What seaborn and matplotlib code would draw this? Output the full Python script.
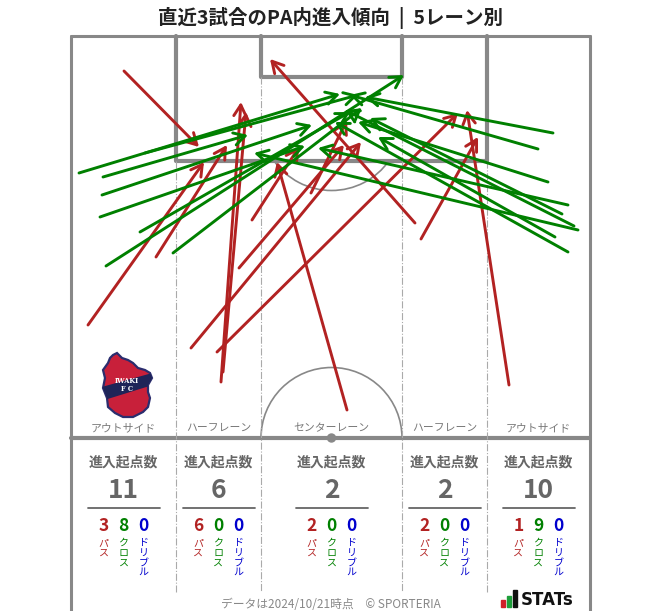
import matplotlib
matplotlib.use("Agg")
import matplotlib.pyplot as plt
import seaborn as sns
from matplotlib.patches import Arc, Circle, Polygon, Rectangle

# ---- data (pixel positions on the pitch image) ----
pass_starts = [(124, 71), (88, 325), (156, 257),
               (252, 220), (239, 268), (191, 348), (217, 352), (221, 382), (223, 372),
               (347, 410), (311, 193),
               (415, 223), (421, 239),
               (509, 385)]
pass_ends = [(199, 147), (204, 162), (227, 145),
             (299, 147), (344, 145), (361, 142), (458, 113), (241, 102), (246, 112),
             (277, 162), (347, 120),
             (270, 59), (478, 137),
             (467, 110)]

cross_starts = [(145, 153), (79, 173), (103, 177), (102, 195), (100, 217), (140, 232), (106, 266), (173, 253),
                (553, 133), (538, 149), (548, 182), (568, 205), (578, 230), (555, 237), (568, 252), (574, 226), (562, 214)]
cross_ends = [(358, 95), (340, 94), (248, 135), (312, 125), (305, 146), (350, 112), (404, 75), (362, 108),
              (365, 97), (350, 95), (358, 122), (318, 148), (254, 153), (378, 137), (335, 122), (345, 110), (370, 118)]

lane_names = ["アウトサイド", "ハーフレーン", "センターレーン", "ハーフレーン", "アウトサイド"]
total_counts = [11, 6, 2, 2, 10]
pass_counts = [3, 6, 2, 2, 1]
cross_counts = [8, 0, 0, 0, 9]
dribble_counts = [0, 0, 0, 0, 0]
kind_labels = ["パス", "クロス", "ドリブル"]

RED = "#B22222"
GREEN = "#008000"
BLUE = "#0000CD"
LINE = "#888888"

sns.set_theme(style="white")
plt.rcParams["font.family"] = ["Noto Sans CJK JP", "DejaVu Sans"]

fig = plt.figure(figsize=(6.63, 6.11), dpi=100)
ax = fig.add_axes([0, 0, 1, 1])
ax.set_xlim(0, 663)
ax.set_ylim(611, 0)
ax.axis("off")

# pitch
lanes = [71, 176, 261, 402, 487, 590]
ax.plot([71, 590], [36, 36], color=LINE, lw=2.2, zorder=1)
ax.plot([71, 71], [36, 611], color=LINE, lw=2.2, zorder=1)
ax.plot([590, 590], [36, 611], color=LINE, lw=2.2, zorder=1)
ax.plot([176, 176, 487, 487], [36, 161, 161, 36], color=LINE, lw=3, zorder=1)
ax.plot([261, 261, 402, 402], [36, 77, 77, 36], color=LINE, lw=3, zorder=1)
ax.plot([71, 590], [438, 438], color=LINE, lw=3, zorder=1)
ax.add_patch(Arc((331.5, 120), 141, 141, theta1=35, theta2=145, color=LINE, lw=1.2, zorder=1))
ax.add_patch(Arc((331.5, 438), 141, 141, theta1=180, theta2=360, color=LINE, lw=1.2, zorder=1))
ax.add_patch(Circle((331.5, 438), 4, color=LINE, zorder=2))
for x, top in [(176, 161), (261, 77), (402, 77), (487, 161)]:
    ax.plot([x, x], [top, 592], color="#aaaaaa", lw=0.8, ls="-.", zorder=1)

centers = [(lanes[i] + lanes[i + 1]) / 2 for i in range(5)]
for cx, name in zip(centers, lane_names):
    ax.text(cx, 428, name, ha="center", va="center", fontsize=7.8, color="#777777")

# arrows
style = "->,head_length=0.5,head_width=0.28"
for (x0, y0), (x1, y1) in zip(pass_starts, pass_ends):
    ax.annotate("", xy=(x1, y1), xytext=(x0, y0),
                arrowprops=dict(arrowstyle=style, color=RED, lw=2.1,
                                shrinkA=0, shrinkB=0, mutation_scale=16), zorder=3)
for (x0, y0), (x1, y1) in zip(cross_starts, cross_ends):
    ax.annotate("", xy=(x1, y1), xytext=(x0, y0),
                arrowprops=dict(arrowstyle=style, color=GREEN, lw=2.1,
                                shrinkA=0, shrinkB=0, mutation_scale=16), zorder=4)

# club badge
shield = Polygon([(110, 358), (113, 355), (117, 353), (122, 358), (128, 360), (133, 363), (138, 368),
                  (145, 370), (150, 373), (152, 378), (148, 385), (148, 392), (150, 398), (148, 407),
                  (143, 412), (133, 417), (123, 417), (115, 413), (108, 407), (107, 398), (103, 388),
                  (105, 378), (103, 370), (108, 363)],
                 closed=True, facecolor="#C8203A", edgecolor="#2B2D6E", lw=1.6, zorder=5)
ax.add_patch(shield)
band = Polygon([(98, 388), (156, 372), (156, 384), (98, 402)], closed=True,
               facecolor="#1E2458", edgecolor="none", zorder=6)
band.set_clip_path(shield)
ax.add_patch(band)
ax.text(127, 381, "IWAKI", ha="center", va="center", fontsize=4.8, color="white",
        fontweight="bold", family="DejaVu Serif", zorder=7)
ax.text(127, 389, "F C", ha="center", va="center", fontsize=4.8, color="white",
        fontweight="bold", family="DejaVu Serif", zorder=7)

# counts per lane
for i, cx in enumerate(centers):
    ax.text(cx, 462, "進入起点数", ha="center", va="center", fontsize=10, fontweight="bold", color="#666666")
    ax.text(cx, 491, str(total_counts[i]), ha="center", va="center", fontsize=19, fontweight="bold", color="#666666")
    ax.plot([cx - 36, cx + 36], [508, 508], color="#666666", lw=1.3)
    vals = [pass_counts[i], cross_counts[i], dribble_counts[i]]
    for j, (v, lab, col) in enumerate(zip(vals, kind_labels, [RED, GREEN, BLUE])):
        x = cx - 20 + 20 * j
        ax.text(x, 526, str(v), ha="center", va="center", fontsize=12.5, fontweight="bold", color=col)
        for k, ch in enumerate(lab):
            ax.text(x, 543 + 9.7 * k, ch, ha="center", va="center", fontsize=7.2, color=col)

# title and footer
ax.text(331, 18, "直近3試合のPA内進入傾向  |  5レーン別", ha="center", va="center",
        fontsize=14, fontweight="bold", color="#222222")
ax.text(331, 604, "データは2024/10/21時点　© SPORTERIA", ha="center", va="center",
        fontsize=8.5, color="#888888")
ax.add_patch(Rectangle((501, 600), 4, 7, color="#D0202A"))
ax.add_patch(Rectangle((507, 596), 4, 11, color="#1E9E3A"))
ax.add_patch(Rectangle((513, 590), 4, 17, color="#111111"))
ax.text(521, 600, "STATs", ha="left", va="center", fontsize=12, fontweight="bold",
        color="#111111", family="DejaVu Sans")

fig.savefig("out.png", dpi=100)
